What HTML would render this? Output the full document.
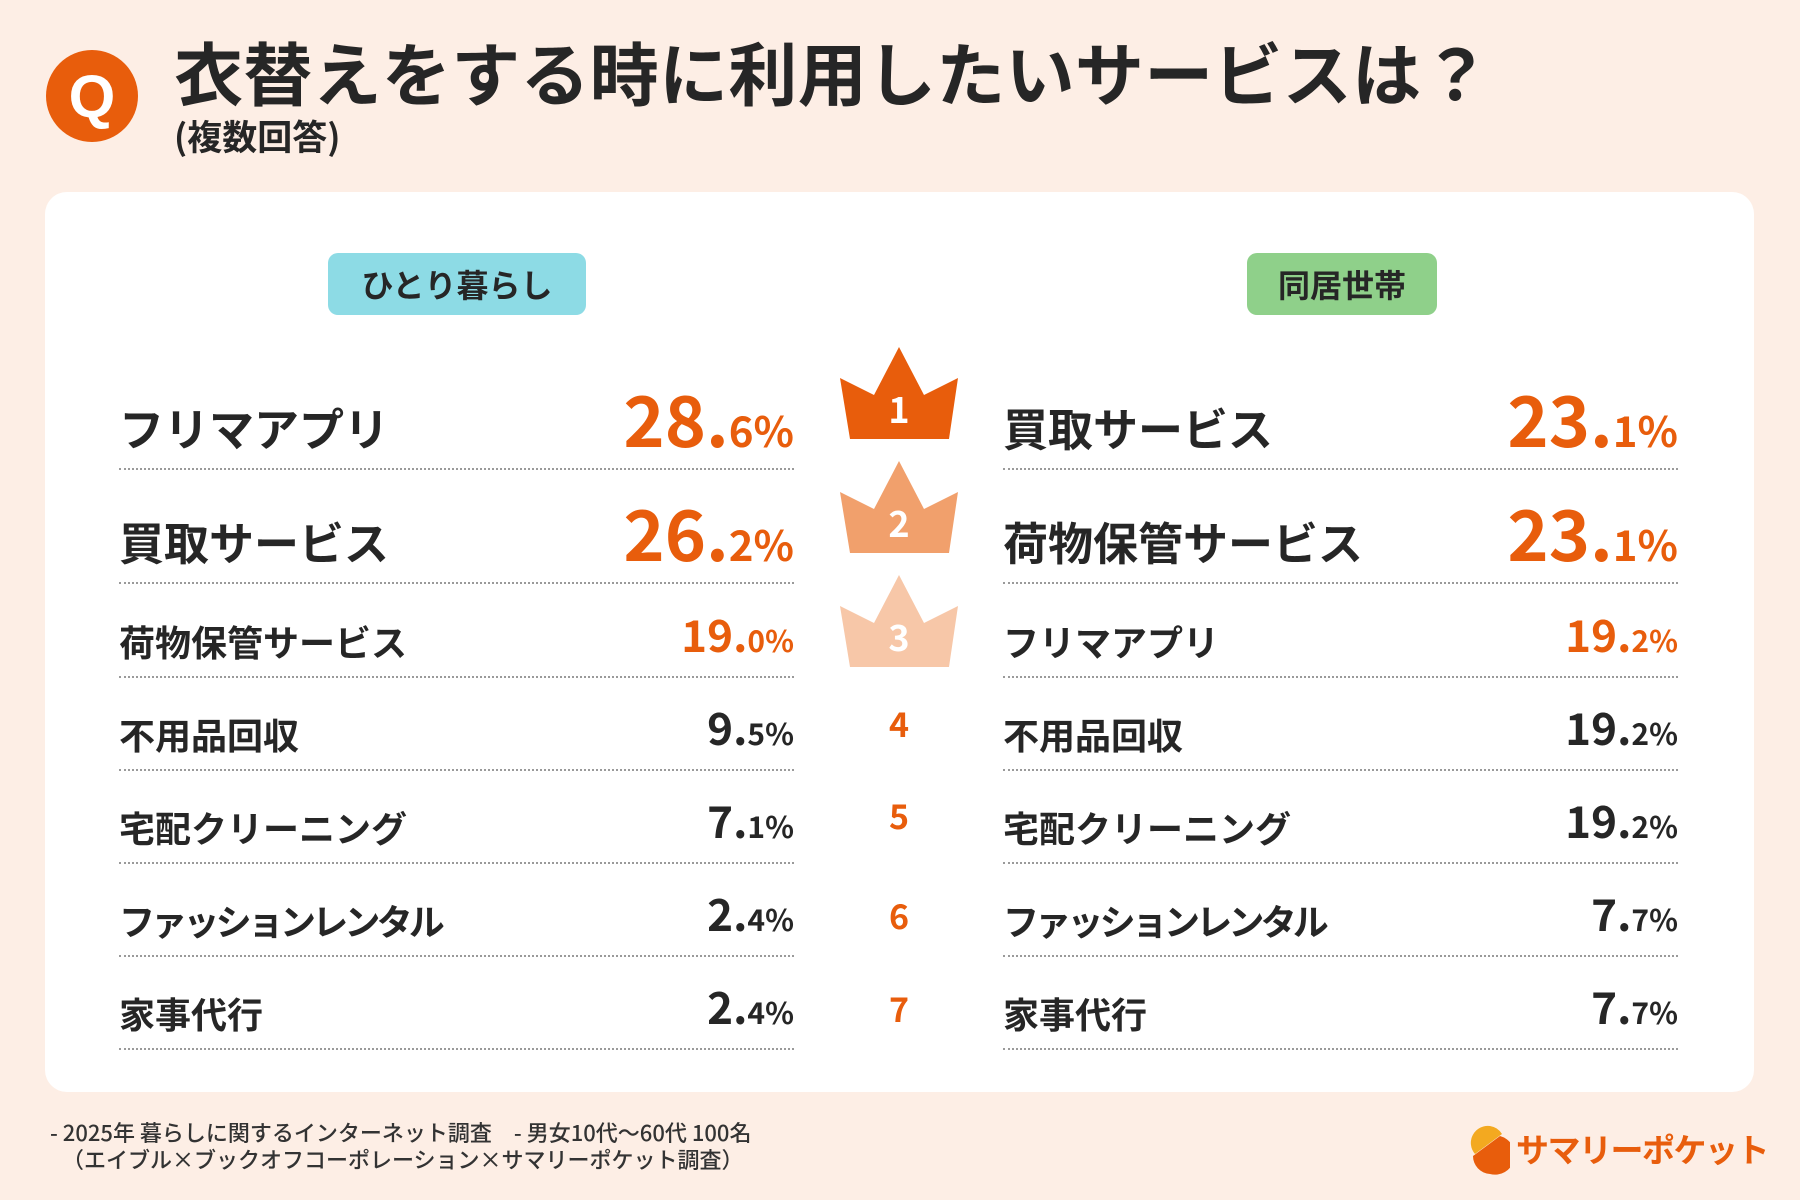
<!DOCTYPE html>
<html><head><meta charset="utf-8"><style>
*{margin:0;padding:0;box-sizing:border-box}
body{width:1800px;height:1200px;background:#fdeee5;font-family:"Liberation Sans","Noto Sans CJK JP",sans-serif;position:relative;overflow:hidden;color:#262626}
.a{position:absolute;line-height:1;white-space:nowrap}
.b{font-weight:700;font-family:"Noto Sans CJK JP",sans-serif}
.card{position:absolute;left:45px;top:192px;width:1709px;height:900px;background:#fff;border-radius:22px}
.pill{position:absolute;top:253px;height:62px;border-radius:10px;font-size:32px;font-weight:700;font-family:"Noto Sans CJK JP",sans-serif;display:flex;align-items:center;justify-content:center}
.sep{position:absolute;height:0;border-top:2px dotted #9a9a9a;width:675px}
.num{position:absolute;line-height:1;white-space:nowrap;text-align:right;font-family:"Noto Sans CJK JP",sans-serif;font-weight:700}
.o{color:#e85d0c}
.rk{position:absolute;width:60px;left:869px;text-align:center;font-size:34px;font-weight:700;color:#e85d0c;font-family:"Noto Sans CJK JP",sans-serif;line-height:1}
.bg{font-size:45px}
.sm{font-size:36px}
.bn{font-size:70px}
.bn span{font-size:42px}
.sn{font-size:44px}
.sn span{font-size:30px}
.fr{letter-spacing:-3.8px}
</style></head><body>
<div style="position:absolute;left:46px;top:50px;width:92px;height:92px;border-radius:50%;background:#e85d0c;color:#fff;font:700 60px 'Liberation Sans',sans-serif;display:flex;align-items:center;justify-content:center">Q</div>
<div class="a b" style="left:174px;top:36px;font-size:69px;letter-spacing:0.3px">衣替えをする時に利用したいサービスは？</div>
<div class="a b" style="left:174px;top:118px;font-size:35px">(複数回答)</div>
<div class="card"></div>
<div class="pill" style="left:328px;width:258px;background:#8ddbe5">ひとり暮らし</div>
<div class="pill" style="left:1247px;width:190px;background:#8fd08a">同居世帯</div>

<svg style="position:absolute;left:0;top:0" width="1800" height="1200">
<g transform="translate(840,347)"><polygon points="0,31 34,48 59,0 84,48 118,31 109,92 10,92" fill="#e85d0c"/><text x="59" y="76" text-anchor="middle" font-family="Noto Sans CJK JP" font-weight="700" font-size="36" fill="#fff">1</text></g>
<g transform="translate(840,461)"><polygon points="0,31 34,48 59,0 84,48 118,31 109,92 10,92" fill="#f1a06c"/><text x="59" y="76" text-anchor="middle" font-family="Noto Sans CJK JP" font-weight="700" font-size="36" fill="#fff">2</text></g>
<g transform="translate(840,575)"><polygon points="0,31 34,48 59,0 84,48 118,31 109,92 10,92" fill="#f7c7a8"/><text x="59" y="76" text-anchor="middle" font-family="Noto Sans CJK JP" font-weight="700" font-size="36" fill="#fff">3</text></g>
</svg>
<div class="rk" style="top:706px">4</div>
<div class="rk" style="top:798px">5</div>
<div class="rk" style="top:898px">6</div>
<div class="rk" style="top:991px">7</div>

<!-- left -->
<div class="a b bg" style="left:119px;top:404px">フリマアプリ</div>
<div class="num o bn" style="right:1006px;top:383px">28.<span>6%</span></div>
<div class="sep" style="left:119px;top:468px"></div>
<div class="a b bg" style="left:119px;top:518px">買取サービス</div>
<div class="num o bn" style="right:1006px;top:497px">26.<span>2%</span></div>
<div class="sep" style="left:119px;top:582px"></div>

<div class="a b sm" style="left:119px;top:623px">荷物保管サービス</div>
<div class="num o sn" style="right:1006px;top:611px">19.<span>0%</span></div>
<div class="sep" style="left:119px;top:676px"></div>
<div class="a b sm" style="left:119px;top:716px">不用品回収</div>
<div class="num sn" style="right:1006px;top:704px">9.<span>5%</span></div>
<div class="sep" style="left:119px;top:769px"></div>
<div class="a b sm" style="left:119px;top:809px">宅配クリーニング</div>
<div class="num sn" style="right:1006px;top:797px">7.<span>1%</span></div>
<div class="sep" style="left:119px;top:862px"></div>
<div class="a b sm fr" style="left:119px;top:902px">ファッションレンタル</div>
<div class="num sn" style="right:1006px;top:890px">2.<span>4%</span></div>
<div class="sep" style="left:119px;top:955px"></div>
<div class="a b sm" style="left:119px;top:995px">家事代行</div>
<div class="num sn" style="right:1006px;top:983px">2.<span>4%</span></div>
<div class="sep" style="left:119px;top:1048px"></div>

<!-- right -->
<div class="a b bg" style="left:1003px;top:404px">買取サービス</div>
<div class="num o bn" style="right:122px;top:383px">23.<span>1%</span></div>
<div class="sep" style="left:1003px;top:468px"></div>
<div class="a b bg" style="left:1003px;top:518px">荷物保管サービス</div>
<div class="num o bn" style="right:122px;top:497px">23.<span>1%</span></div>
<div class="sep" style="left:1003px;top:582px"></div>

<div class="a b sm" style="left:1003px;top:623px">フリマアプリ</div>
<div class="num o sn" style="right:122px;top:611px">19.<span>2%</span></div>
<div class="sep" style="left:1003px;top:676px"></div>
<div class="a b sm" style="left:1003px;top:716px">不用品回収</div>
<div class="num sn" style="right:122px;top:704px">19.<span>2%</span></div>
<div class="sep" style="left:1003px;top:769px"></div>
<div class="a b sm" style="left:1003px;top:809px">宅配クリーニング</div>
<div class="num sn" style="right:122px;top:797px">19.<span>2%</span></div>
<div class="sep" style="left:1003px;top:862px"></div>
<div class="a b sm fr" style="left:1003px;top:902px">ファッションレンタル</div>
<div class="num sn" style="right:122px;top:890px">7.<span>7%</span></div>
<div class="sep" style="left:1003px;top:955px"></div>
<div class="a b sm" style="left:1003px;top:995px">家事代行</div>
<div class="num sn" style="right:122px;top:983px">7.<span>7%</span></div>
<div class="sep" style="left:1003px;top:1048px"></div>

<div class="a" style="left:50px;top:1121px;font-size:22px;color:#333;font-family:'Noto Sans CJK JP',sans-serif;font-weight:500">- 2025年 暮らしに関するインターネット調査　- 男女10代～60代 100名</div>
<div class="a" style="left:62px;top:1148px;font-size:22px;color:#333;font-family:'Noto Sans CJK JP',sans-serif;font-weight:500">（エイブル×ブックオフコーポレーション×サマリーポケット調査）</div>

<svg style="position:absolute;left:1470px;top:1124px" width="40" height="52">
<path d="M20,2 A17,17 0 0 0 5,30 L32,10 A17,17 0 0 0 20,2Z" fill="#f3a920"/>
<path d="M3,32 L30,12 A18,18 0 0 1 20,50 A18,18 0 0 1 3,32Z" fill="#e85d0c"/>
</svg>
<div class="a b" style="left:1516px;top:1132px;font-size:33px;color:#e85d0c;letter-spacing:-1.5px">サマリーポケット</div>
</body></html>
